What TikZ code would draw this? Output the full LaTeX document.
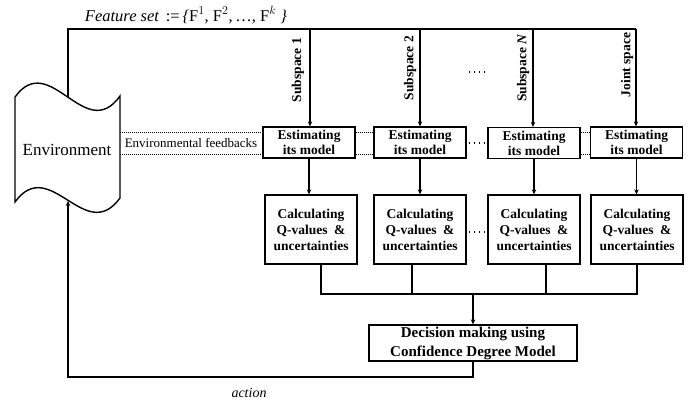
\documentclass[tikz,border=0pt]{standalone}
\usepackage{fontspec}
\setmainfont{Liberation Serif}
\usetikzlibrary{arrows.meta}
\tikzset{
  box/.style={draw, line width=1.3pt, align=center, inner sep=1pt, font=\fontsize{13.5}{15}\selectfont\bfseries},
  ebox/.style={box, minimum width=92pt, minimum height=31pt},
  cbox/.style={box, minimum width=92pt, minimum height=69pt, font=\fontsize{13.5}{16}\selectfont\bfseries},
  dbox/.style={box, minimum width=208pt, minimum height=36pt, font=\fontsize{15}{19}\selectfont\bfseries},
  ln/.style={line width=1.1pt},
  arr/.style={ln, -{Stealth[length=5pt,width=4.5pt]}},
  fb/.style={line width=0.9pt, dash pattern=on 1pt off 1pt},
  dots/.style={line width=1.2pt, dash pattern=on 1.2pt off 3.8pt},
  sub/.style={rotate=90, font=\fontsize{13.5}{15}\selectfont\bfseries, inner sep=0pt},
}
\begin{document}
\begin{tikzpicture}[x=1pt,y=-1pt]
\useasboundingbox[fill=white] (0,0) rectangle (699,407);
% environment shape
\draw[line width=1.4pt] (15,97) .. controls (50,49) and (85,145) .. (120,96) -- (120,198)
  .. controls (85,246) and (50,154) .. (15,202) -- cycle;
\node[font=\fontsize{17}{19}\selectfont] (env) at (67,150) {Environment};
\coordinate (envtop) at (68,97);
\coordinate (envbot) at (68,201);
\coordinate (corner) at (68,29);
\coordinate (topend) at (636,29);
% boxes
\node[ebox] (E1) at (309,142.5) {Estimating\\its model};
\node[ebox] (E2) at (420,142.5) {Estimating\\its model};
\node[ebox] (E3) at (534,143) {Estimating\\its model};
\node[ebox] (E4) at (636.5,142.5) {Estimating\\its model};
\node[cbox] (C1) at (311,229.5) {Calculating\\Q-values \ \&\\uncertainties};
\node[cbox] (C2) at (420,229.5) {Calculating\\Q-values \ \&\\uncertainties};
\node[cbox] (C3) at (534,229.5) {Calculating\\Q-values \ \&\\uncertainties};
\node[cbox] (C4) at (637,229.5) {Calculating\\Q-values \ \&\\uncertainties};
\node[dbox] (D) at (473,343) {Decision making using\\Confidence Degree Model};
% top feature line
\node[font=\fontsize{16.5}{18}\selectfont, inner sep=0pt] (fs) at (186,15)
  {\itshape Feature set\, \upshape:=\,\itshape\{\upshape F$^{1}$, F$^{2}$,\,\dots, F$^{k}$\itshape\ \}};
\draw[ln] (envtop) -- (corner) -- (topend);
\coordinate (t1) at (310,29);
\coordinate (t2) at (420,29);
\coordinate (t3) at (533,29);
\draw[arr] (t1) -- (t1 |- E1.north);
\draw[arr] (t2) -- (t2 |- E2.north);
\draw[arr] (t3) -- (t3 |- E3.north);
\draw[arr] (topend) -- (topend |- E4.north);
\node[sub] (s1) at (298,70) {Subspace 1};
\node[sub] (s2) at (410,68) {Subspace 2};
\node[sub] (s3) at (523,68) {Subspace \textit{N}};
\node[sub] (s4) at (627,65) {Joint space};
\coordinate (d1) at (469,72);
\coordinate (d2) at (486,72);
\draw[dots] (d1) -- (d2);
% E -> C
\draw[arr] (E1.south) -- (E1.south |- C1.north);
\draw[arr] (E2.south) -- (E2.south |- C2.north);
\draw[arr] (E3.south) -- (E3.south |- C3.north);
\draw[arr] (E4.south) -- (E4.south |- C4.north);
% feedbacks
\coordinate (f1) at (120,132);
\coordinate (f2) at (120,154);
\draw[fb] (f1) -- (f1 -| E1.west);
\draw[fb] (f2) -- (f2 -| E1.west);
\node[font=\fontsize{13}{15}\selectfont, inner sep=0pt] (fbt) at (191,143) {Environmental feedbacks};
\draw[fb] (f1 -| E1.east) -- (f1 -| E2.west);
\draw[fb] (f2 -| E1.east) -- (f2 -| E2.west);
\draw[fb] (f1 -| E3.east) -- (f1 -| E4.west);
\draw[fb] (f2 -| E3.east) -- (f2 -| E4.west);
\coordinate (e1) at (469,143);
\coordinate (e2) at (486,143);
\draw[dots] (e1) -- (e2);
\coordinate (c1) at (469,232);
\coordinate (c2) at (486,232);
\draw[dots] (c1) -- (c2);
% collect
\coordinate (k1) at (321,294);
\coordinate (k2) at (412,294);
\coordinate (k3) at (546,294);
\coordinate (k4) at (637,294);
\coordinate (km) at (473,294);
\draw[ln] (k1 |- C1.south) -- (k1) -- (k4) -- (k4 |- C4.south);
\draw[ln] (k2 |- C2.south) -- (k2);
\draw[ln] (k3 |- C3.south) -- (k3);
\draw[arr] (km) -- (D.north);
% action loop
\coordinate (b) at (68,377);
\draw[arr] (D.south) |- (b) -- (envbot);
\node[font=\fontsize{14}{16}\selectfont\itshape, inner sep=0pt] (act) at (249,393) {action};
\end{tikzpicture}
\end{document}
